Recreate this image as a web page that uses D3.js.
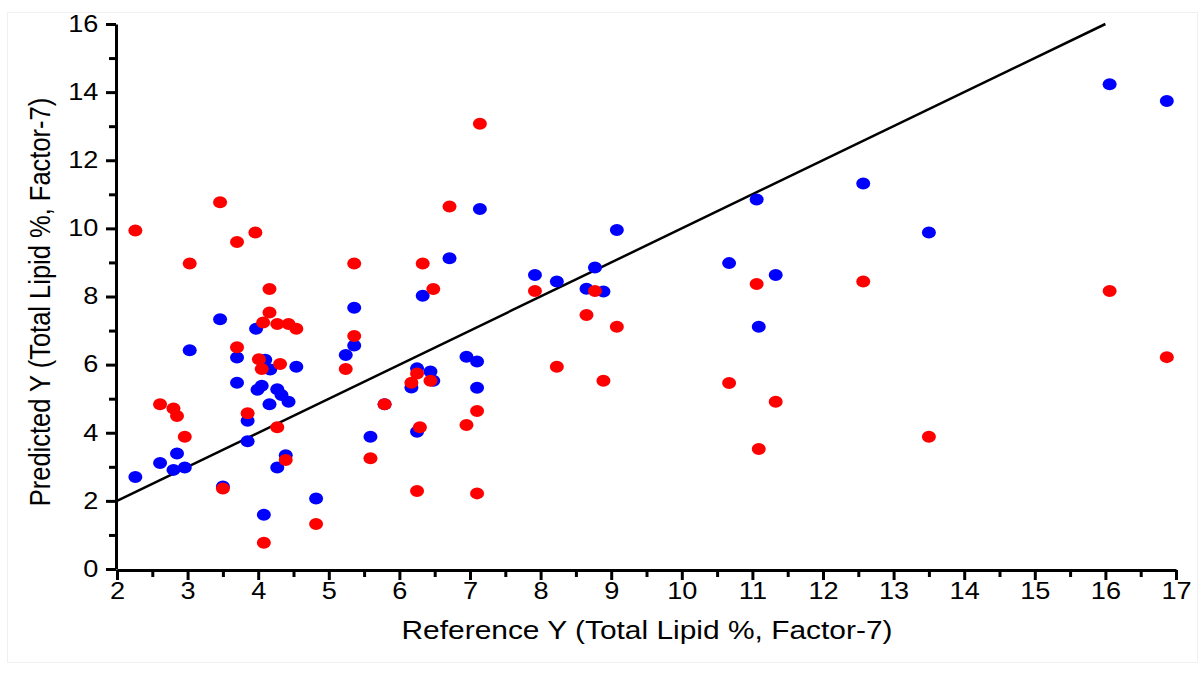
<!DOCTYPE html>
<meta charset="utf-8">
<style>
  body { margin: 0; background: #fff; }
  text { font-family: "Liberation Sans", Arial, sans-serif; }
</style>
<svg width="1204" height="673"></svg>
<script src="https://d3js.org/d3.v7.min.js"></script>
<script>

// reference values (x) and predicted values (y), two series
var blueX = [2.26, 2.61, 2.80, 2.85, 2.96, 3.03, 3.46, 3.50, 3.70, 3.70, 3.85, 3.85, 3.97, 4.10,
    4.17, 4.05, 3.99, 4.27, 4.33, 4.43, 4.16, 4.54, 4.39, 4.27, 4.08, 4.82, 5.24, 5.36, 5.36,
    5.59, 5.79, 6.17, 6.25, 6.25, 6.33, 6.44, 6.48, 6.71, 6.95, 7.10, 7.10, 7.14, 7.92, 8.23,
    8.65, 8.77, 8.89, 9.08, 10.67, 11.06, 11.09, 11.33, 12.57, 13.50, 16.06, 16.87];
var blueY = [2.70, 3.11, 2.91, 3.39, 2.98, 6.42, 7.33, 2.42, 6.21, 5.47, 4.35, 3.75, 7.05, 6.14,
    5.86, 5.38, 5.26, 5.28, 5.11, 4.91, 4.84, 5.94, 3.34, 2.98, 1.59, 2.07, 6.28, 6.56, 7.67,
    3.88, 4.84, 5.33, 5.89, 4.03, 8.02, 5.80, 5.53, 9.12, 6.23, 6.09, 5.32, 10.57, 8.63, 8.44,
    8.23, 8.85, 8.15, 9.95, 8.98, 10.85, 7.11, 8.63, 11.32, 9.88, 14.23, 13.74];

var redX = [2.26, 2.61, 2.80, 2.85, 2.96, 3.03, 3.46, 3.50, 3.70, 3.70, 3.85, 3.96, 4.07, 4.16,
    4.16, 4.27, 4.43, 4.54, 4.01, 4.05, 4.31, 4.27, 4.39, 4.08, 4.82, 5.24, 5.36, 5.36, 5.59,
    5.79, 6.17, 6.25, 6.25, 6.29, 6.33, 6.44, 6.48, 6.71, 6.95, 7.10, 7.10, 7.14, 7.92, 8.23,
    8.65, 8.77, 8.89, 9.08, 10.67, 11.06, 11.09, 11.33, 12.57, 13.50, 16.06, 16.87];
var redY = [9.94, 4.84, 4.71, 4.49, 3.88, 8.97, 10.77, 2.36, 9.60, 6.51, 4.57, 9.88, 7.24, 7.53,
    8.22, 7.19, 7.19, 7.05, 6.16, 5.87, 6.02, 4.16, 3.20, 0.77, 1.32, 5.87, 6.84, 8.97, 3.25,
    4.84, 5.47, 5.74, 2.29, 4.16, 8.97, 5.53, 8.22, 10.64, 4.23, 4.64, 2.22, 13.07, 8.16, 5.94,
    7.46, 8.16, 5.53, 7.11, 5.46, 8.37, 3.52, 4.91, 8.44, 3.88, 8.16, 6.22];

var xMajor = d3.range(2, 18, 1);
var xMinor = d3.range(2.5, 17, 1);
var yMajor = d3.range(0, 17, 2);
var yMinor = d3.range(1, 16, 2);
var idealLine = [2, 16];

var svg = d3.select("svg");

// faint outer frame
svg.append("rect")
    .attr("x", 7.5).attr("y", 12.5)
    .attr("width", 1190).attr("height", 650)
    .attr("fill", "none")
    .attr("stroke", "#f0f0f0");

var x = d3.scaleLinear().domain([2, 17]).range([117, 1176]);
var y = d3.scaleLinear().domain([0, 16]).range([569, 24]);

var sx = 1.18; // picture is stretched sideways

// minor ticks
svg.append("g")
    .attr("transform", "translate(0,570)")
    .call(d3.axisBottom(x).tickValues(xMinor).tickSize(7).tickFormat(""))
    .call(function (g) { g.select(".domain").remove(); });
svg.append("g")
    .attr("transform", "translate(116,0)")
    .call(d3.axisLeft(y).tickValues(yMinor).tickSize(7).tickFormat(""))
    .call(function (g) { g.select(".domain").remove(); });

var gx = svg.append("g")
    .attr("transform", "translate(0,570)")
    .call(d3.axisBottom(x).tickValues(xMajor).tickSize(10).tickSizeOuter(0).tickPadding(3));
var gy = svg.append("g")
    .attr("transform", "translate(116,0)")
    .call(d3.axisLeft(y).tickValues(yMajor).tickSize(10).tickSizeOuter(0));

gx.selectAll("text")
    .attr("font-size", 23)
    .attr("font-family", "Liberation Sans, Arial, sans-serif")
    .attr("fill", "#000")
    .attr("transform", function (d) { return "translate(" + x(d) + ",0) scale(" + sx + ",1) translate(" + (-x(d)) + ",0)"; });
gx.selectAll(".tick").each(function (d) {
    d3.select(this).select("text")
        .attr("transform", "scale(" + sx + ",1)");
});
gy.selectAll("text")
    .attr("font-size", 23)
    .attr("font-family", "Liberation Sans, Arial, sans-serif")
    .attr("fill", "#000")
    .attr("x", -15)
    .attr("transform", "scale(" + sx + ",1)");

svg.selectAll(".domain, .tick line")
    .attr("stroke", "#000")
    .attr("stroke-width", 3);

// y = x reference line
svg.append("line")
    .attr("x1", x(idealLine[0])).attr("y1", y(idealLine[0]))
    .attr("x2", x(idealLine[1])).attr("y2", y(idealLine[1]))
    .attr("stroke", "#000")
    .attr("stroke-width", 2.5);

svg.append("g").selectAll("ellipse")
    .data(blueX)
    .join("ellipse")
    .attr("cx", function (d) { return x(d); })
    .attr("cy", function (d, i) { return y(blueY[i]); })
    .attr("rx", 7).attr("ry", 6)
    .attr("fill", "#0000ff");

svg.append("g").selectAll("ellipse")
    .data(redX)
    .join("ellipse")
    .attr("cx", function (d) { return x(d); })
    .attr("cy", function (d, i) { return y(redY[i]); })
    .attr("rx", 7).attr("ry", 6)
    .attr("fill", "#ff0000");

// axis titles
svg.append("text")
    .attr("x", 647).attr("y", 639)
    .attr("text-anchor", "middle")
    .attr("font-size", 25.5)
    .attr("textLength", 491)
    .attr("lengthAdjust", "spacingAndGlyphs")
    .text("Reference Y (Total Lipid %, Factor-7)");

svg.append("text")
    .attr("transform", "translate(50,302) scale(" + sx + ",1) rotate(-90)")
    .attr("text-anchor", "middle")
    .attr("font-size", 25.5)
    .text("Predicted Y (Total Lipid %, Factor-7)");

</script>
